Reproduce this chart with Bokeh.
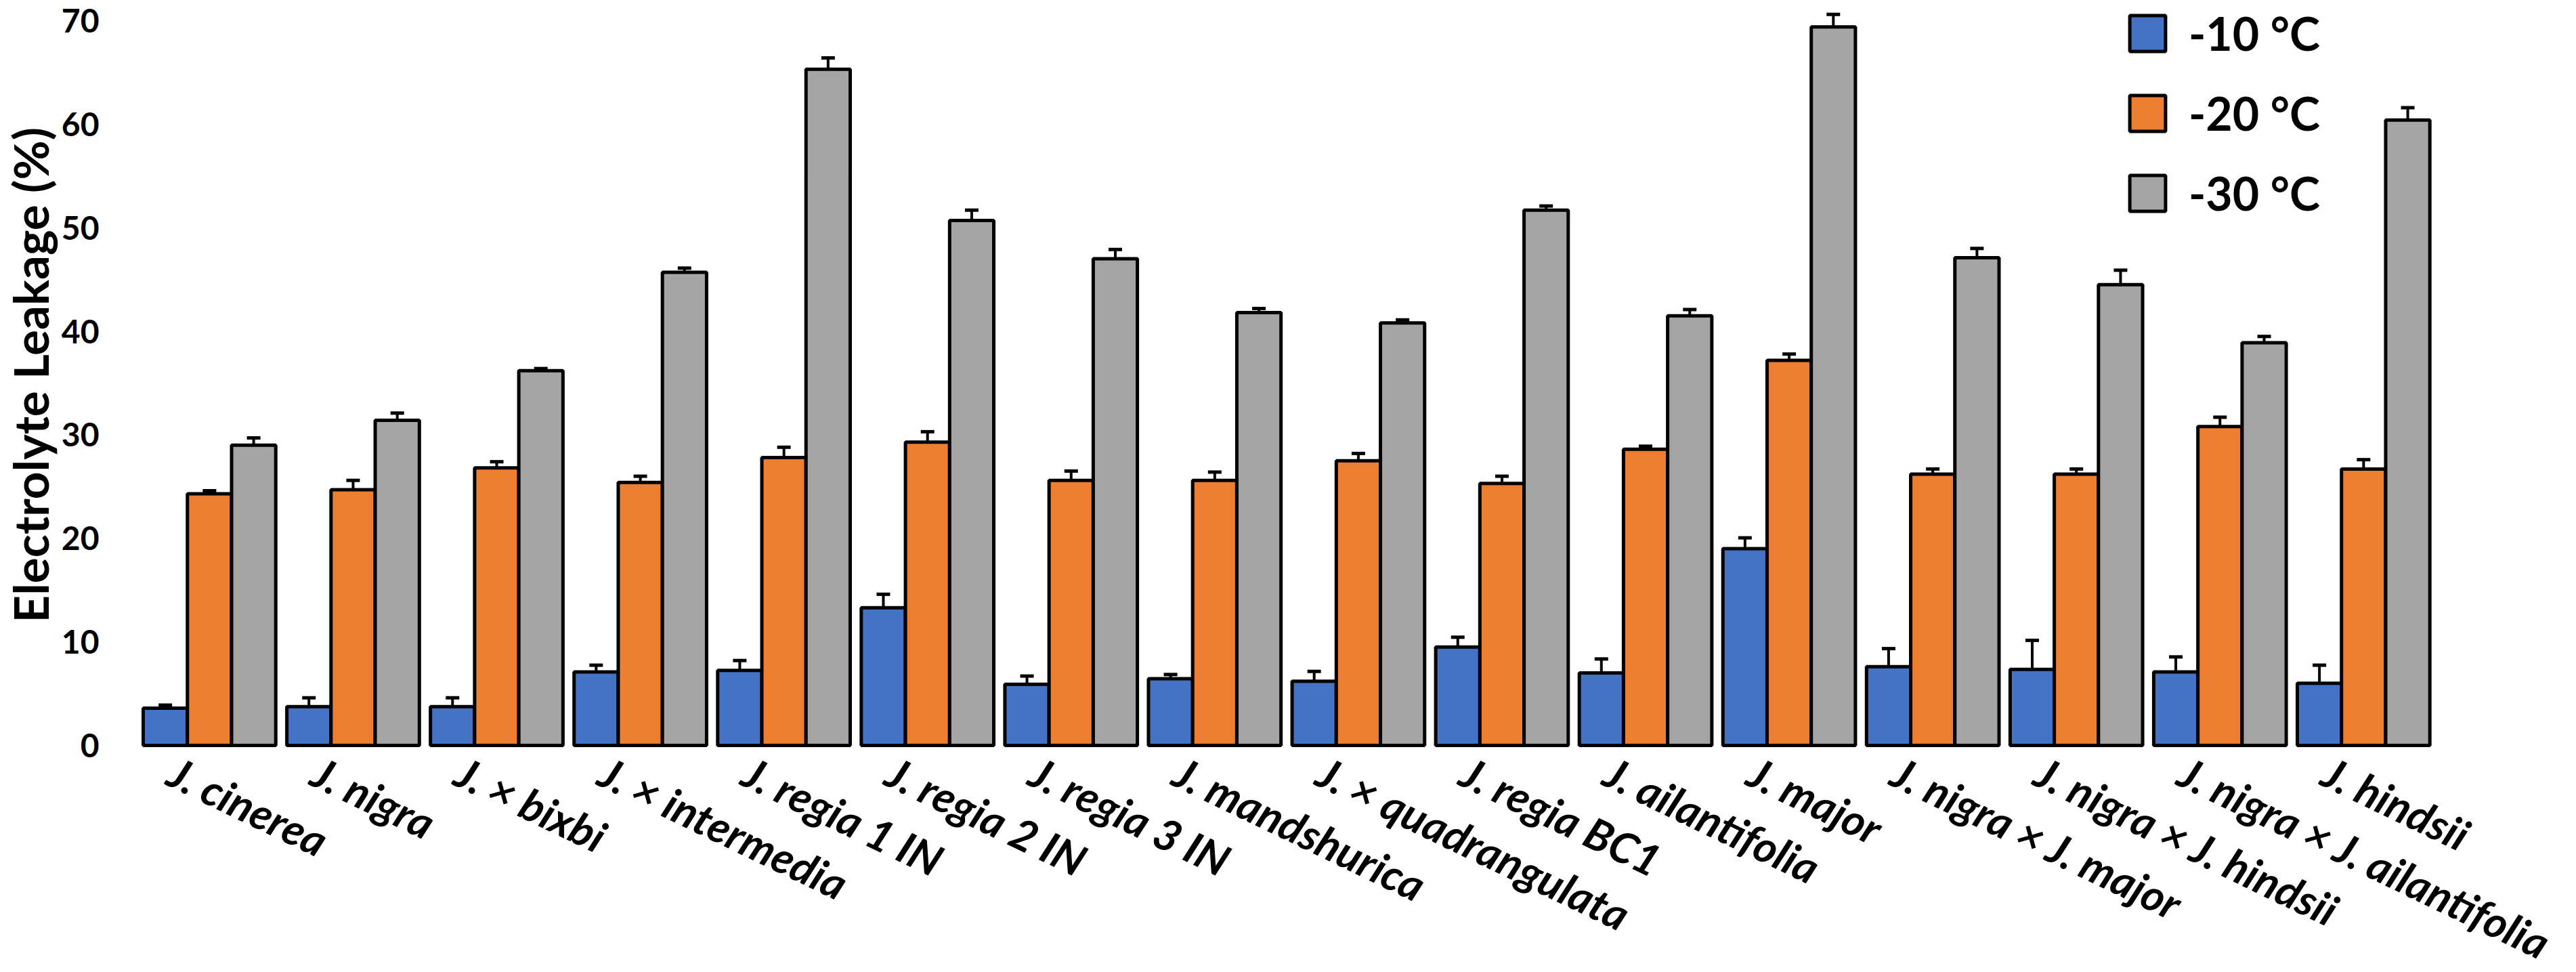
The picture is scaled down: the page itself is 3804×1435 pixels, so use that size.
from bokeh.plotting import figure
from bokeh.models import (ColumnDataSource, Range1d, FixedTicker, Whisker, TeeHead,
                          Legend, LegendItem, Title)
from bokeh.core.properties import value
from bokeh.embed import file_html
from bokeh.resources import INLINE

# ---------------- data ----------------
categories = [
    "J. cinerea", "J. nigra", "J. × bixbi", "J. × intermedia", "J. regia 1 IN",
    "J. regia 2 IN", "J. regia 3 IN", "J. mandshurica", "J. × quadrangulata",
    "J. regia BC1", "J. ailantifolia", "J. major", "J. nigra × J. major",
    "J. nigra × J. hindsii", "J. nigra × J. ailantifolia", "J. hindsii",
]
series_names = ["-10 °C", "-20 °C", "-30 °C"]

leak_m10 = [3.6, 3.75, 3.75, 7.1, 7.25, 13.3, 5.9, 6.45, 6.2, 9.5, 7.0, 19.0, 7.6, 7.35, 7.1, 6.0]
err_m10 = [0.3, 0.85, 0.85, 0.65, 0.95, 1.3, 0.8, 0.4, 0.95, 0.95, 1.35, 1.05, 1.75, 2.8, 1.45, 1.75]

leak_m20 = [24.3, 24.7, 26.8, 25.4, 27.8, 29.3, 25.6, 25.6, 27.5, 25.3, 28.6, 37.2, 26.2, 26.2, 30.8, 26.7]
err_m20 = [0.3, 0.9, 0.6, 0.6, 1.0, 1.0, 0.9, 0.8, 0.7, 0.7, 0.3, 0.6, 0.5, 0.5, 0.9, 0.9]

leak_m30 = [29.0, 31.4, 36.2, 45.7, 65.3, 50.7, 47.0, 41.8, 40.8, 51.7, 41.5, 69.4, 47.1, 44.5, 38.9, 60.4]
err_m30 = [0.7, 0.7, 0.2, 0.4, 1.1, 1.0, 0.9, 0.4, 0.3, 0.4, 0.6, 1.2, 0.9, 1.4, 0.6, 1.2]

y_ticks = [0, 10, 20, 30, 40, 50, 60, 70]
y_title = "Electrolyte Leakage (%)"

# ---------------- layout / style ----------------
colors = ["#4472C4", "#ED7D31", "#A5A5A5"]
FONT = "Lato"
W, H = 3788, 1419
BL = 197                      # left border (y axis + title)
BAR_W = 0.3076
offsets = [-BAR_W, 0.0, BAR_W]

# the frame reaches the canvas bottom/right so that the rotated
# category labels (drawn under the bars) are never clipped
p = figure(width=W, height=H,
           x_range=Range1d(-0.5087, 16.406), y_range=Range1d(-20.869, 71.963),
           output_backend="svg", toolbar_location=None,
           x_axis_location=None,
           min_border_left=BL, min_border_right=0,
           min_border_top=0, min_border_bottom=0)
p.outline_line_color = None
p.xgrid.visible = False
p.ygrid.visible = False
p.background_fill_color = "white"
p.border_fill_color = "white"

yax = p.yaxis[0]
yax.ticker = FixedTicker(ticks=y_ticks)
yax.axis_line_color = None
yax.major_tick_line_color = None
yax.minor_tick_line_color = None
yax.major_tick_out = 0
yax.major_tick_in = 0
yax.major_label_standoff = 55
yax.major_label_text_font = FONT
yax.major_label_text_font_style = "bold"
yax.major_label_text_font_size = "48px"
yax.major_label_text_color = "black"

ttl = Title(text=y_title, align="left", offset=500, vertical_align="middle",
            standoff=0, text_font=FONT, text_font_style="bold",
            text_font_size="71px", text_color="black")
p.add_layout(ttl, "left")

series = [(leak_m10, err_m10), (leak_m20, err_m20), (leak_m30, err_m30)]
items = []
for k, (vals, errs) in enumerate(series):
    src = ColumnDataSource(dict(
        x=[i + offsets[k] for i in range(len(categories))],
        top=vals,
        upper=[v + e for v, e in zip(vals, errs)],
    ))
    r = p.vbar(x="x", top="top", bottom=0, width=BAR_W, source=src,
               fill_color=colors[k], line_color="black", line_width=5)
    items.append(LegendItem(label=series_names[k], renderers=[r]))
    wh = Whisker(source=src, base="x", lower="top", upper="upper",
                 line_color="black", line_width=4,
                 upper_head=TeeHead(size=20, line_width=5, line_color="black"),
                 lower_head=None)
    p.add_layout(wh)

# category labels, anchored just under each group's baseline
lab_src = ColumnDataSource(dict(x=list(range(len(categories))),
                                y=[0] * len(categories),
                                name=categories))
p.text(x="x", y="y", text="name", source=lab_src,
       angle=-0.45, text_align="left", text_baseline="middle",
       x_offset=-56, y_offset=35,
       text_font=value(FONT), text_font_style="bold italic",
       text_font_size="64px", text_color="black")

legend = Legend(items=items, location=(2937, 1094), orientation="vertical",
                glyph_width=66, glyph_height=66, label_height=66,
                label_text_font=FONT, label_text_font_style="bold",
                label_text_font_size="68px", label_text_color="black",
                label_standoff=28, spacing=37, padding=0, margin=0,
                border_line_color=None, background_fill_alpha=0)
p.add_layout(legend)

open("out.html", "w").write(file_html(p, INLINE))
